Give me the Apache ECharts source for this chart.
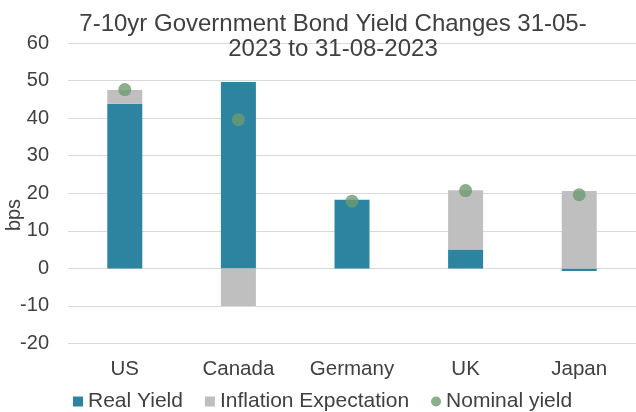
<!DOCTYPE html>
<html>
<head>
<meta charset="utf-8">
<script src="https://cdn.jsdelivr.net/npm/echarts@6/dist/echarts.min.js"></script>
<style>
  html, body { margin: 0; padding: 0; background: #ffffff; }
  #chart { width: 636px; height: 412px; }
</style>
</head>
<body>
<div id="chart"></div>
<script>
// Change in 7-10yr government bond yields, in basis points
const countries = ['US', 'Canada', 'Germany', 'UK', 'Japan'];
const realYield = [43.8, 49.6, 18.3, 5.0, -0.7];
const inflationExpectation = [3.7, -10.0, 0, 15.8, 20.6];
const nominalYield = [47.6, 39.6, 17.9, 20.7, 19.6];
const yTicks = { min: -20, max: 60, interval: 10 };

const textColor = '#404040';
const fontFamily = 'Liberation Sans, Arial, sans-serif';

const chart = echarts.init(document.getElementById('chart'), null, { renderer: 'canvas' });

chart.setOption({
  animation: false,
  backgroundColor: '#ffffff',
  title: {
    text: '7-10yr Government Bond Yield Changes 31-05-\n2023 to 31-08-2023',
    left: 328,
    top: 7,
    textAlign: 'center',
    textStyle: {
      color: textColor,
      fontFamily: fontFamily,
      fontSize: 24,
      fontWeight: 'normal',
      lineHeight: 25
    }
  },
  legend: {
    left: 68,
    top: 386,
    itemWidth: 10,
    itemHeight: 10,
    itemGap: 22,
    textStyle: { color: textColor, fontFamily: fontFamily, fontSize: 21 },
    data: [
      { name: 'Real Yield', icon: 'rect' },
      { name: 'Inflation Expectation', icon: 'rect' },
      { name: 'Nominal yield', icon: 'circle' }
    ]
  },
  graphic: [{
    type: 'text',
    x: 14,
    y: 215,
    rotation: Math.PI / 2,
    style: {
      text: 'bps',
      fill: textColor,
      font: '20px ' + fontFamily,
      align: 'center',
      verticalAlign: 'middle'
    }
  }],
  grid: { left: 68, right: -2, top: 43, bottom: 68.5, containLabel: false },
  xAxis: {
    type: 'category',
    data: countries,
    axisLine: { show: false, onZero: false },
    axisTick: { show: false },
    axisLabel: { color: textColor, fontFamily: fontFamily, fontSize: 20.5, margin: 15 }
  },
  yAxis: {
    type: 'value',
    min: yTicks.min,
    max: yTicks.max,
    interval: yTicks.interval,
    axisLine: { show: false },
    axisTick: { show: false },
    splitLine: { lineStyle: { color: '#d9d9d9', width: 1 } },
    axisLabel: { color: textColor, fontFamily: fontFamily, fontSize: 20, margin: 19 }
  },
  series: [
    {
      name: 'Real Yield',
      type: 'bar',
      stack: 'yield',
      barWidth: 35,
      itemStyle: { color: '#2c84a0' },
      data: realYield
    },
    {
      name: 'Inflation Expectation',
      type: 'bar',
      stack: 'yield',
      barWidth: 35,
      itemStyle: { color: '#bfbfbf' },
      data: inflationExpectation
    },
    {
      name: 'Nominal yield',
      type: 'scatter',
      symbol: 'circle',
      symbolSize: 13,
      z: 5,
      itemStyle: { color: '#6e9a6f' },
      data: nominalYield
    }
  ]
});
</script>
</body>
</html>
